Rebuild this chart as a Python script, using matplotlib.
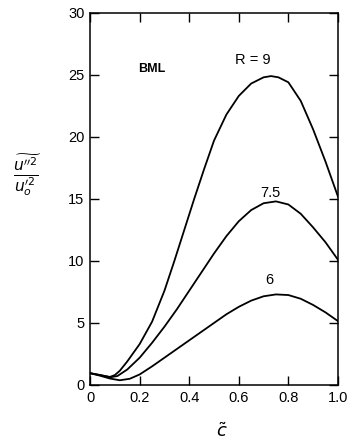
import numpy as np
import matplotlib
matplotlib.use('Agg')
import matplotlib.pyplot as plt

plt.rcParams['font.family'] = ['Liberation Sans', 'DejaVu Sans']
plt.rcParams['mathtext.fontset'] = 'dejavusans'

# valores (c, u''^2/u_o'^2)
c9 = [0.0, 0.04, 0.08, 0.1, 0.12, 0.15, 0.2, 0.25, 0.3, 0.34, 0.38, 0.42, 0.46, 0.5,
      0.55, 0.6, 0.65, 0.7, 0.73, 0.76, 0.8, 0.85, 0.9, 0.95, 1.0]
v9 = [0.95, 0.8, 0.65, 0.8, 1.15, 1.9, 3.3, 5.1, 7.6, 10.0, 12.5, 15.0, 17.4, 19.7,
      21.8, 23.3, 24.3, 24.8, 24.9, 24.8, 24.4, 22.9, 20.6, 18.0, 15.2]

c75 = [0.0, 0.04, 0.08, 0.11, 0.15, 0.2, 0.25, 0.3, 0.35, 0.4, 0.45, 0.5,
       0.55, 0.6, 0.65, 0.7, 0.75, 0.8, 0.85, 0.9, 0.95, 1.0]
v75 = [0.95, 0.8, 0.62, 0.72, 1.25, 2.2, 3.4, 4.7, 6.1, 7.6, 9.1, 10.6,
       12.0, 13.2, 14.1, 14.65, 14.8, 14.55, 13.8, 12.7, 11.5, 10.1]

c6 = [0.0, 0.04, 0.08, 0.12, 0.16, 0.2, 0.25, 0.3, 0.35, 0.4, 0.45, 0.5,
      0.55, 0.6, 0.65, 0.7, 0.75, 0.8, 0.85, 0.9, 0.95, 1.0]
v6 = [0.95, 0.75, 0.52, 0.38, 0.5, 0.85, 1.5, 2.2, 2.9, 3.6, 4.3, 5.0,
      5.7, 6.3, 6.8, 7.15, 7.3, 7.25, 6.95, 6.45, 5.85, 5.15]

etiquetas = ['R = 9', '7.5', '6']
pos_etiq = [(0.655, 26.2), (0.727, 15.5), (0.724, 8.5)]

fig = plt.figure(figsize=(3.52, 4.42), dpi=100)
ax = fig.add_axes([0.256, 0.129, 0.704, 0.842])

for c, v in [(c9, v9), (c75, v75), (c6, v6)]:
    ax.plot(c, v, color='black', lw=1.3, solid_joinstyle='round')

for txt, (x, y) in zip(etiquetas, pos_etiq):
    ax.text(x, y, txt, fontsize=10.5, ha='center', va='center')

ax.text(0.247, 25.5, 'BML', fontsize=9, fontweight='bold', ha='center', va='center')

ax.set_xlim(0, 1.0)
ax.set_ylim(0, 30)
ax.set_xticks([0, 0.2, 0.4, 0.6, 0.8, 1.0])
ax.set_xticklabels(['0', '0.2', '0.4', '0.6', '0.8', '1.0'])
ax.set_yticks([0, 5, 10, 15, 20, 25, 30])
ax.set_yticklabels(['0', '5', '10', '15', '20', '25', '30'])
ax.tick_params(direction='in', length=6.5, width=1, top=True, right=True,
               labelsize=10.5, pad=4)
for s in ax.spines.values():
    s.set_linewidth(1.1)

#etiquetas de los ejes
fig.text(222 / 352, 1 - 432 / 442, r'$\tilde{c}$', fontsize=13, ha='center', va='center')
fig.text(27 / 352, 1 - 175 / 442,
         r'$\frac{\widetilde{u^{\prime\prime 2}}}{u_o^{\prime 2}}$',
         fontsize=16, ha='center', va='center')

fig.savefig('out.png', dpi=100)
